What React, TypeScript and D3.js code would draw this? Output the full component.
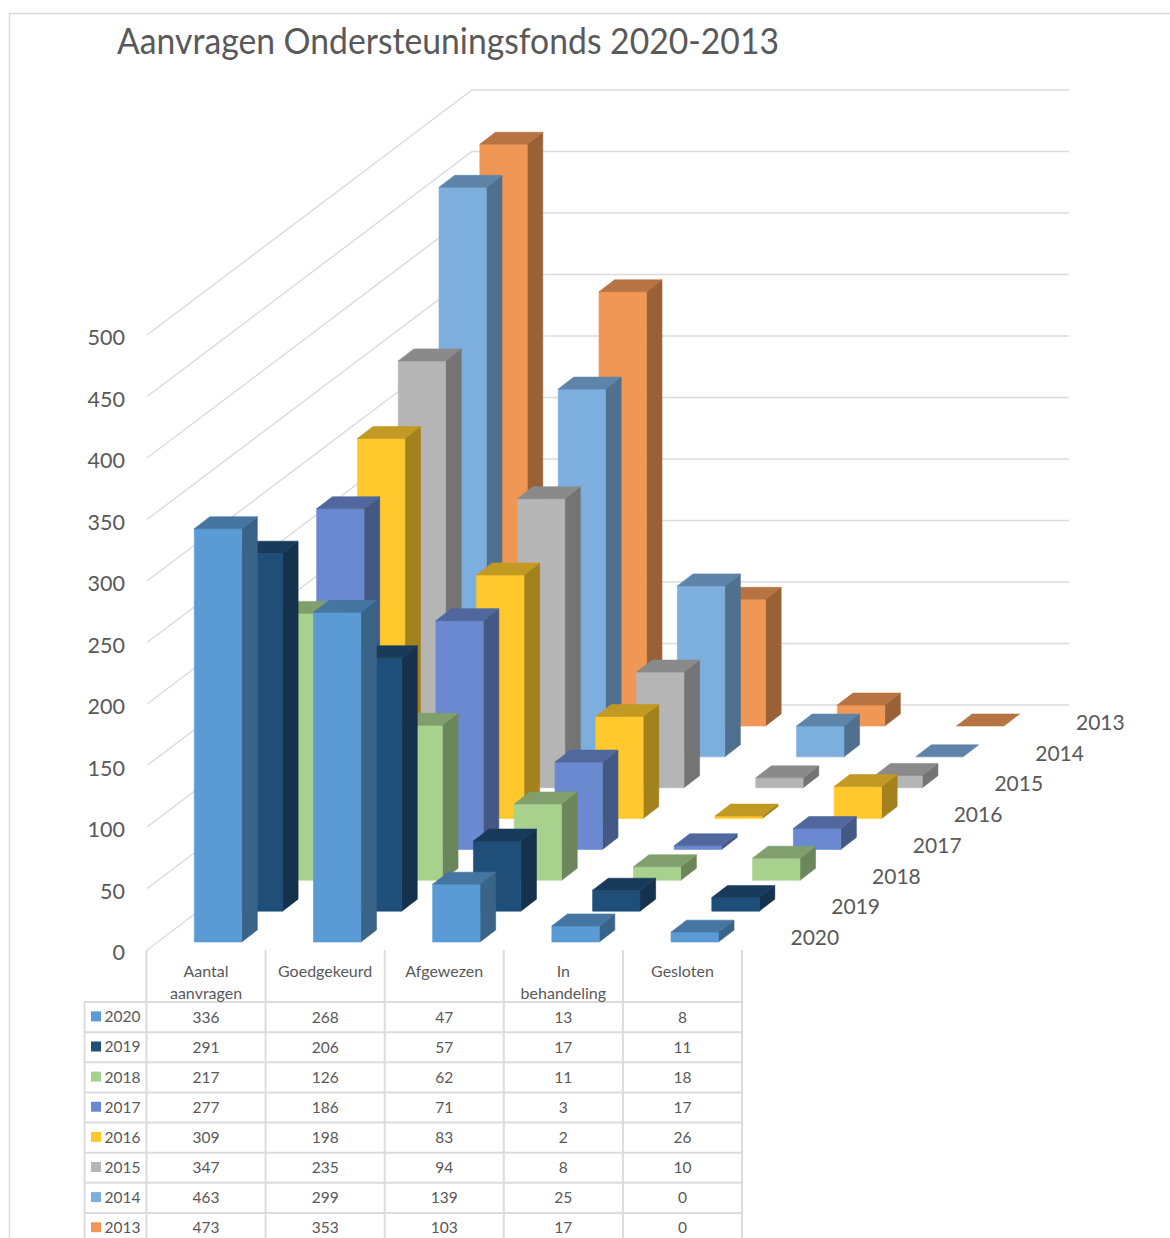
import React from "react";
import * as d3 from "d3";

const TITLE = "Aanvragen Ondersteuningsfonds 2020-2013";
const categories = [["Aantal", "aanvragen"], ["Goedgekeurd"], ["Afgewezen"], ["In", "behandeling"], ["Gesloten"]];
const years = ["2020", "2019", "2018", "2017", "2016", "2015", "2014", "2013"];
const colors = ["#5B9BD5", "#1F4E79", "#A9D18E", "#6A89D0", "#FFC92E", "#B5B5B5", "#7CAFDE", "#F19755"];
const v2020 = [336, 268, 47, 13, 8];
const v2019 = [291, 206, 57, 17, 11];
const v2018 = [217, 126, 62, 11, 18];
const v2017 = [277, 186, 71, 3, 17];
const v2016 = [309, 198, 83, 2, 26];
const v2015 = [347, 235, 94, 8, 10];
const v2014 = [463, 299, 139, 25, 0];
const v2013 = [473, 353, 103, 17, 0];
const series = [v2020, v2019, v2018, v2017, v2016, v2015, v2014, v2013];

const FONT = "Lato, 'Open Sans', sans-serif";
const GRID = "#dcdcdc";
const TEXT = "#595959";

const h = d3.scaleLinear().domain([0, 500]).range([0, 615]);
const catX = d3.scaleLinear().domain([0, 4]).range([194.3, 671]);
const depthX = d3.scaleLinear().domain([0, 7]).range([0, 285.5]);
const depthY = d3.scaleLinear().domain([0, 7]).range([942, 726]);
const tableX = d3.scaleLinear().domain([0, 5]).range([146.5, 742]);
const rowY = d3.scaleLinear().domain([0, 8]).range([1002, 1243]);
const BW = 47.4, DX = 15.6, DY = 12;

const mul = (c: string, k: number) => {
  const r = d3.rgb(c);
  return d3.rgb(r.r * k, r.g * k, r.b * k).formatHex();
};

function Bar({ c, s, v }: { c: number; s: number; v: number }) {
  const x = catX(c) + depthX(s);
  const y0 = depthY(s);
  const y1 = y0 - h(v);
  const col = colors[s];
  const poly = d3.line();
  const p = (pts: [number, number][]) => poly(pts)! + "Z";
  return (
    <g strokeWidth={0.6} strokeLinejoin="round">
      {v > 0 && <path d={p([[x + BW, y0], [x + BW + DX, y0 - DY], [x + BW + DX, y1 - DY], [x + BW, y1]])} fill={mul(col, 0.64)} stroke={mul(col, 0.64)} />}
      {v > 0 && <path d={p([[x, y0], [x + BW, y0], [x + BW, y1], [x, y1]])} fill={col} stroke={col} />}
      <path d={p([[x, y1], [x + BW, y1], [x + BW + DX, y1 - DY], [x + DX, y1 - DY]])} fill={mul(col, 0.76)} stroke={mul(col, 0.76)} />
    </g>
  );
}

export default function App() {
  const ticks = h.ticks(10);
  const order = d3.range(7, -1, -1);
  return (
    <svg width={1170} height={1238} viewBox="0 0 1170 1238" style={{ position: "absolute", left: 0, top: 0, background: "#fff" }} fontFamily={FONT}>
      <path d="M9.5,1238V13.5H1170" fill="none" stroke={GRID} strokeWidth={1.5} />
      <text x={117} y={54} fontSize={36.5} fill={TEXT} textLength={662} lengthAdjust="spacingAndGlyphs">{TITLE}</text>

      {ticks.map((t) => (
        <g key={t} stroke={GRID} strokeWidth={1.5} fill="none">
          <path d={`M147,${950 - h(t)}L472,${705 - h(t)}H1069`} />
        </g>
      ))}
      {ticks.map((t) => (
        <text key={t} x={125} y={952 - h(t)} textAnchor="end" dominantBaseline="central" fontSize={21.5} fill={TEXT}>{t}</text>
      ))}

      {order.map((s) => (
        <g key={s}>
          {series[s].map((v, c) => <Bar key={c} c={c} s={s} v={v} />)}
        </g>
      ))}

      {years.map((yr, s) => (
        <text key={yr} x={790.5 + depthX(s)} y={936.5 - (942 - depthY(s)) * 0.995} dominantBaseline="central" fontSize={21} fill={TEXT}>{yr}</text>
      ))}

      <g stroke={GRID} strokeWidth={2} fill="none">
        {d3.range(6).map((i) => <path key={i} d={`M${tableX(i)},950V1238`} />)}
        <path d="M84.5,1002V1238" />
        {d3.range(8).map((r) => <path key={r} d={`M84,${rowY(r)}H742`} />)}
      </g>

      {categories.map((lines, c) => (
        <text key={c} textAnchor="middle" fontSize={16} fill={TEXT}>
          {lines.map((l, i) => (
            <tspan key={i} x={(tableX(c) + tableX(c + 1)) / 2} y={970 + i * 22} dominantBaseline="central">{l}</tspan>
          ))}
        </text>
      ))}

      {years.map((yr, s) => {
        const cy = (rowY(s) + rowY(s + 1)) / 2 - 0.7;
        return (
          <g key={yr}>
            <rect x={91} y={cy - 5} width={10} height={10} fill={colors[s]} />
            <text x={104.5} y={cy} dominantBaseline="central" fontSize={15.5} fill={TEXT}>{yr}</text>
            {series[s].map((v, c) => (
              <text key={c} x={(tableX(c) + tableX(c + 1)) / 2} y={cy + 0.2} textAnchor="middle" dominantBaseline="central" fontSize={15.5} fill={TEXT}>{v}</text>
            ))}
          </g>
        );
      })}
    </svg>
  );
}
